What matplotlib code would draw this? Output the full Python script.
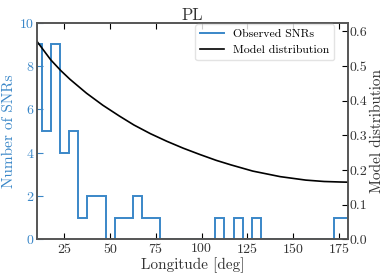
import matplotlib
matplotlib.use('Agg')
import matplotlib.pyplot as plt
import numpy as np

plt.rcParams['font.family'] = 'serif'
plt.rcParams['font.serif'] = ['cmr10']
plt.rcParams['mathtext.fontset'] = 'cm'
plt.rcParams['axes.formatter.use_mathtext'] = True

# Histogram of observed SNRs (5 deg bins centred on 10, 15, ..., 180)
bin_edges = np.arange(7.5, 183, 5)
snr_counts = [9, 5, 9, 4, 5, 1, 2, 2, 0, 1, 1, 2, 1, 1, 0, 0, 0, 0, 0, 0,
              1, 0, 1, 0, 1, 0, 0, 0, 0, 0, 0, 0, 0, 1, 1]

# Model distribution
model_lon = [10, 17.5, 23, 28, 37, 46, 55, 63, 72, 81, 90, 99, 108, 116,
             128, 143, 157, 167, 176, 180]
model_val = [0.571, 0.518, 0.487, 0.462, 0.422, 0.387, 0.356, 0.330, 0.305,
             0.283, 0.263, 0.245, 0.228, 0.215, 0.197, 0.181, 0.171, 0.167,
             0.1655, 0.165]

blue = '#3a87c8'
spine_col = '#555555'

fig = plt.figure(figsize=(3.9, 2.78), dpi=100)
ax = fig.add_axes([0.095, 0.139, 0.797, 0.779])
ax2 = ax.twinx()

ax.stairs(snr_counts, bin_edges, color=blue, linewidth=1.4,
          label='Observed SNRs')
ax2.plot(model_lon, model_val, color='black', linewidth=1.2,
         label='Model distribution')

ax.set_xlim(10, 180)
ax.set_ylim(0, 10)
ax2.set_ylim(0, 0.625)
ax.set_xticks([25, 50, 75, 100, 125, 150, 175])
ax.set_yticks([0, 2, 4, 6, 8, 10])
ax2.set_yticks([0.0, 0.1, 0.2, 0.3, 0.4, 0.5, 0.6])
ax2.yaxis.set_major_formatter(matplotlib.ticker.FormatStrFormatter('%.1f'))

ax.tick_params(axis='x', direction='in', top=True, labelsize=10,
               color='black', labelcolor='#333333', length=4, pad=2)
ax.tick_params(axis='y', direction='in', labelsize=10, colors=blue,
               length=4, pad=2)
ax2.tick_params(axis='y', direction='in', labelsize=10, color='black',
                labelcolor='#333333', length=4, pad=1)

for a in (ax, ax2):
    for s in a.spines.values():
        s.set_color(spine_col)
        s.set_linewidth(1.2)

ax.set_xlabel('Longitude [deg]', fontsize=11, color='#333333', labelpad=1)
ax.set_ylabel('Number of SNRs', fontsize=11, color=blue, labelpad=2)
ax2.set_ylabel('Model distribution', fontsize=11, color='#333333', labelpad=2)
ax.set_title('PL', fontsize=12, color='#333333', pad=2)

h1, l1 = ax.get_legend_handles_labels()
h2, l2 = ax2.get_legend_handles_labels()
h1 = [plt.Line2D([], [], color=blue, linewidth=1.4)]
ax2.legend(h1 + h2, l1 + l2, loc='upper right', bbox_to_anchor=(0.956, 0.993),
           borderaxespad=0, fontsize=8.5, framealpha=0.8, edgecolor='#dddddd')

fig.savefig('out.png', dpi=100)
